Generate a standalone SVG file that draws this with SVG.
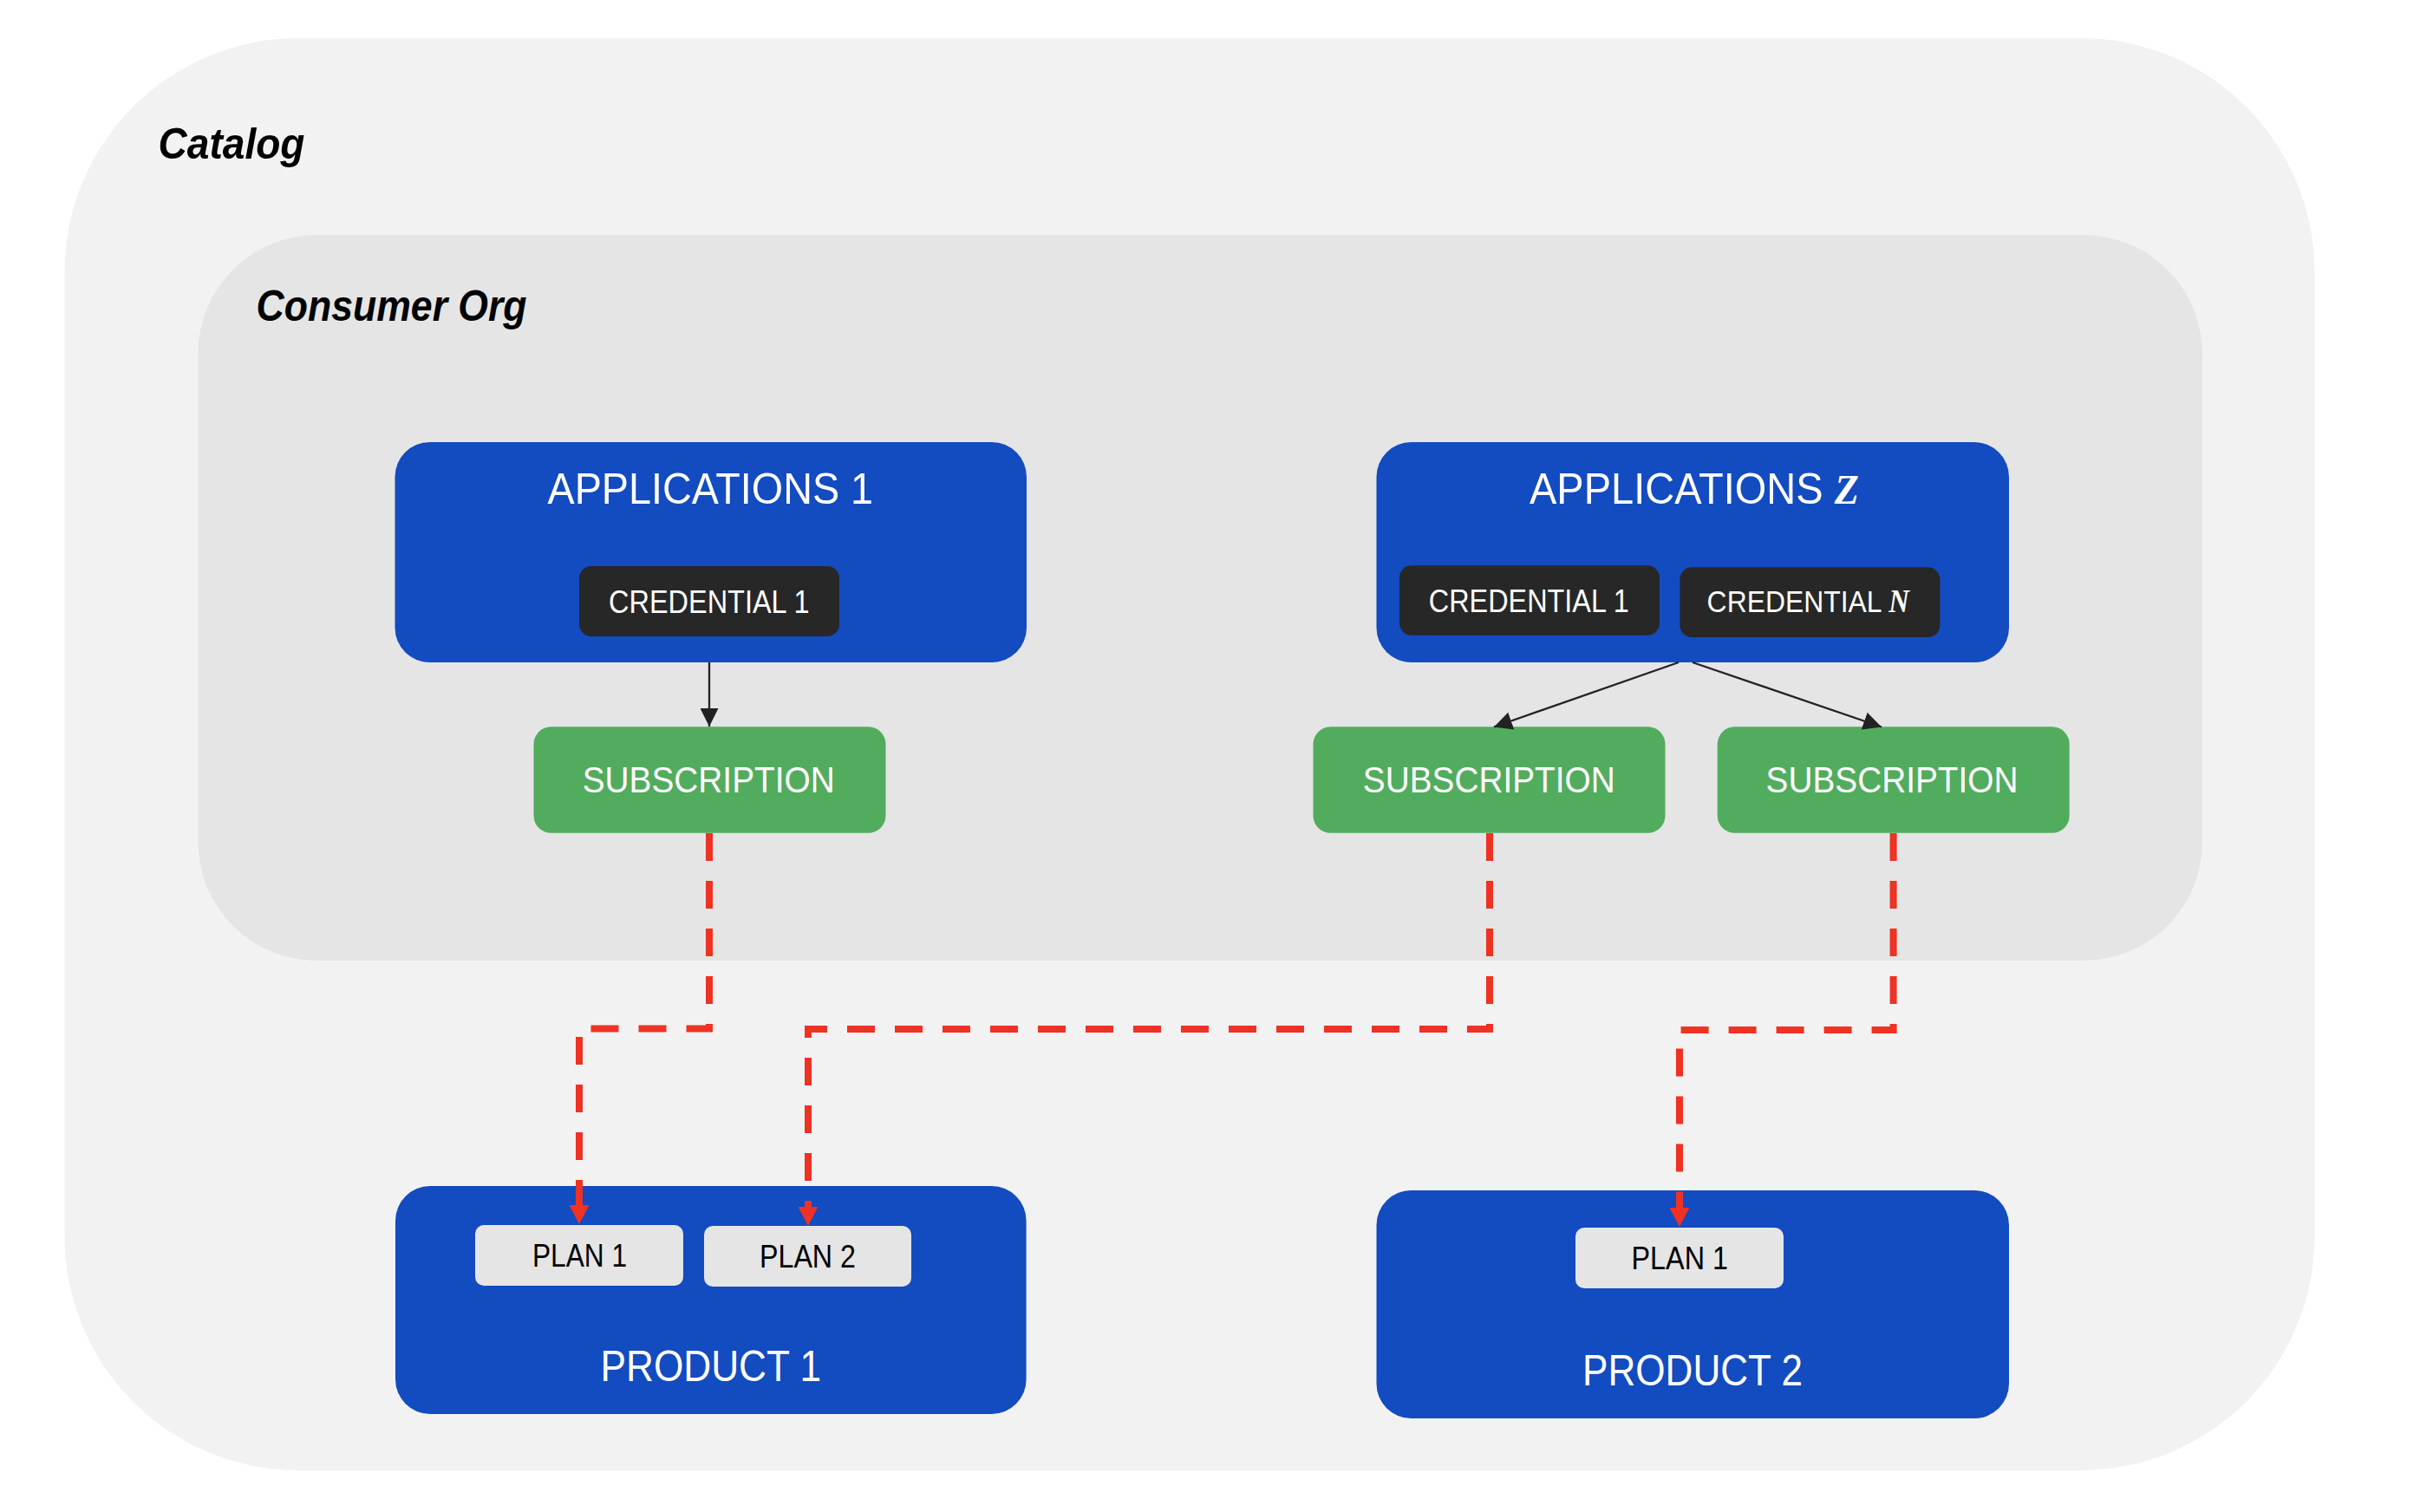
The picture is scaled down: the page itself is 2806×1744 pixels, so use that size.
<svg xmlns="http://www.w3.org/2000/svg" width="2806" height="1744" viewBox="0 0 2806 1744">
<style>
.t{font-family:"Liberation Sans",Arial,sans-serif;}
.hdr{font-family:"Liberation Sans",Arial,sans-serif;font-size:50px;font-weight:bold;font-style:italic;fill:#000;}
.title{font-size:50px;fill:#fff;}
.cred{font-size:36px;fill:#fff;}
.sub{font-size:42px;fill:#fff;}
.plan{font-size:36px;fill:#000;}
.math{font-family:"Liberation Serif","Times New Roman",serif;font-weight:bold;font-style:italic;}
.blue{fill:#134bc0;}
.dark{fill:#272727;}
.green{fill:#52ac5e;}
.light{fill:#e5e5e5;}
.link{fill:none;stroke:#222;stroke-width:2.3;}
.dash{fill:none;stroke:#ee3224;stroke-width:8;stroke-dasharray:32 23;}
</style>
<defs>
<marker id="ab" viewBox="0 0 21 21" markerWidth="21" markerHeight="21" refX="21" refY="10.5" orient="auto" markerUnits="userSpaceOnUse">
<path d="M0,0 L21,10.5 L0,21 z" fill="#222"/>
</marker>
<marker id="ar" viewBox="0 0 22 23" markerWidth="22" markerHeight="23" refX="2" refY="11.5" orient="auto" markerUnits="userSpaceOnUse">
<path d="M0,0 L22,11.5 L0,23 z" fill="#ee3224"/>
</marker>
</defs>

<g id="catalog">
<rect x="74.5" y="44" width="2595" height="1652" rx="270" ry="270" fill="#f2f2f2"/>
<text class="hdr" x="182.5" y="182.7" textLength="169" lengthAdjust="spacingAndGlyphs">Catalog</text>
</g>

<g id="consumer-org">
<rect x="228.5" y="271" width="2311.5" height="837" rx="137" ry="137" fill="#e5e5e5"/>
<text class="hdr" x="295.6" y="370" textLength="312" lengthAdjust="spacingAndGlyphs">Consumer Org</text>
</g>

<g id="app1">
<rect class="blue" x="455.5" y="510" width="728.5" height="254" rx="40" ry="40"/>
<text class="t title" x="631.5" y="580.7" textLength="375.5" lengthAdjust="spacingAndGlyphs">APPLICATIONS 1</text>
</g>
<g id="app1-cred1">
<rect class="dark" x="668" y="653" width="300" height="81" rx="14" ry="14"/>
<text class="t cred" x="702" y="707.3" textLength="231.5" lengthAdjust="spacingAndGlyphs">CREDENTIAL 1</text>
</g>

<g id="appZ">
<rect class="blue" x="1587.5" y="510" width="729.5" height="254" rx="40" ry="40"/>
<text class="t title" transform="translate(1764,580.7) scale(0.94,1)" x="0" y="0">APPLICATIONS <tspan class="math" font-size="49">Z</tspan></text>
</g>
<g id="appZ-cred1">
<rect class="dark" x="1614" y="652.3" width="300" height="80.5" rx="14" ry="14"/>
<text class="t cred" x="1647.8" y="706" textLength="231" lengthAdjust="spacingAndGlyphs">CREDENTIAL 1</text>
</g>
<g id="appZ-credN">
<rect class="dark" x="1937.4" y="654.3" width="300" height="80.7" rx="14" ry="14"/>
<text class="t cred" transform="translate(1968.6,705.5) scale(0.886,1)" x="0" y="0">CREDENTIAL <tspan class="math" font-size="37">N</tspan></text>
</g>

<g id="sub1">
<rect class="green" x="615.5" y="838.3" width="406" height="122.5" rx="20" ry="20"/>
<text class="t sub" x="671.7" y="914" textLength="291" lengthAdjust="spacingAndGlyphs">SUBSCRIPTION</text>
</g>
<g id="sub2">
<rect class="green" x="1514.5" y="838.3" width="406" height="122.5" rx="20" ry="20"/>
<text class="t sub" x="1571.8" y="914" textLength="291" lengthAdjust="spacingAndGlyphs">SUBSCRIPTION</text>
</g>
<g id="sub3">
<rect class="green" x="1980.7" y="838.3" width="406" height="122.5" rx="20" ry="20"/>
<text class="t sub" x="2036.5" y="914" textLength="291" lengthAdjust="spacingAndGlyphs">SUBSCRIPTION</text>
</g>

<g id="product1">
<rect class="blue" x="456" y="1368" width="727.6" height="263" rx="40" ry="40"/>
<text class="t title" x="692.5" y="1592.5" textLength="254.5" lengthAdjust="spacingAndGlyphs">PRODUCT 1</text>
</g>
<g id="product1-plan1">
<rect class="light" x="548" y="1413" width="240" height="70" rx="10" ry="10"/>
<text class="t plan" x="614" y="1461" textLength="109" lengthAdjust="spacingAndGlyphs">PLAN 1</text>
</g>
<g id="product1-plan2">
<rect class="light" x="812" y="1414" width="239" height="70" rx="10" ry="10"/>
<text class="t plan" x="876" y="1462" textLength="111" lengthAdjust="spacingAndGlyphs">PLAN 2</text>
</g>

<g id="product2">
<rect class="blue" x="1587.5" y="1373" width="729.5" height="263" rx="40" ry="40"/>
<text class="t title" x="1825" y="1598" textLength="254" lengthAdjust="spacingAndGlyphs">PRODUCT 2</text>
</g>
<g id="product2-plan1">
<rect class="light" x="1817" y="1416" width="240" height="70" rx="10" ry="10"/>
<text class="t plan" x="1881.5" y="1464" textLength="111.5" lengthAdjust="spacingAndGlyphs">PLAN 1</text>
</g>

<g id="connectors">
<path class="link" d="M818,764 V838" marker-end="url(#ab)"/>
<path class="link" d="M1936,764 L1723,838.5" marker-end="url(#ab)"/>
<path class="link" d="M1952,764 L2170,838.5" marker-end="url(#ab)"/>
<path class="dash" d="M818,961 V1186.5 H668 V1392" marker-end="url(#ar)"/>
<path class="dash" d="M1718,961 V1187 H932 V1394" marker-end="url(#ar)"/>
<path class="dash" d="M2183.6,961 V1188 H1937 V1395" marker-end="url(#ar)"/>
</g>
</svg>
